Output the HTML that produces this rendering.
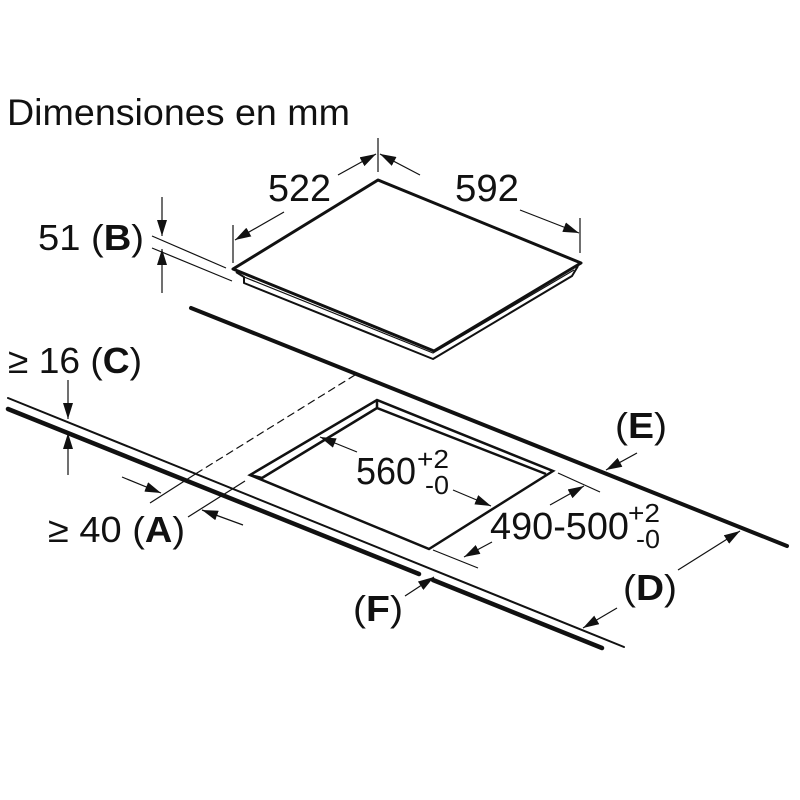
<!DOCTYPE html>
<html><head><meta charset="utf-8"><style>
html,body{margin:0;padding:0;background:#fff}
svg{display:block}
text{font-family:"Liberation Sans",sans-serif;fill:#111}
</style></head><body>
<svg width="800" height="800" viewBox="0 0 800 800" xmlns="http://www.w3.org/2000/svg">
<defs>
<marker id="a" viewBox="0 0 16 10" refX="16" refY="5" markerWidth="16" markerHeight="10" markerUnits="userSpaceOnUse" orient="auto">
<path d="M0,0 L16,5 L0,10 z" fill="#111"/>
</marker>
</defs>
<rect width="800" height="800" fill="#fff"/>
<text x="7" y="125" font-size="37" textLength="343" lengthAdjust="spacingAndGlyphs">Dimensiones en mm</text>

<!-- hob -->
<g fill="none" stroke="#111" stroke-linejoin="round">
<path d="M378,180 L581,263 L434,351 L233,269 Z" stroke-width="3"/>
<path d="M236,272 L244,277 L244,283 L433,359 L572,276 L578,266" stroke-width="2"/>
<path d="M244,277 L433,353 L574,270" stroke-width="1.2"/>
</g>

<!-- dims for hob -->
<g stroke="#111" fill="none" stroke-width="1.2">
<line x1="378" y1="138" x2="378" y2="172"/>
<line x1="233" y1="225" x2="233" y2="263"/>
<line x1="580" y1="218" x2="580" y2="253"/>
<line x1="338" y1="175" x2="376" y2="154" marker-end="url(#a)"/>
<line x1="284" y1="212" x2="235" y2="240" marker-end="url(#a)"/>
<line x1="420" y1="175" x2="380" y2="154" marker-end="url(#a)"/>
<line x1="520" y1="210" x2="579" y2="233" marker-end="url(#a)"/>
<line x1="152" y1="236" x2="226" y2="268"/>
<line x1="152" y1="248" x2="232" y2="281"/>
<line x1="162" y1="197" x2="162" y2="236" marker-end="url(#a)"/>
<line x1="162" y1="293" x2="162" y2="249" marker-end="url(#a)"/>
</g>
<text x="268" y="201" font-size="38" textLength="63" lengthAdjust="spacingAndGlyphs">522</text>
<text x="455" y="201" font-size="38" textLength="64" lengthAdjust="spacingAndGlyphs">592</text>
<text x="38" y="250" font-size="36" textLength="106" lengthAdjust="spacingAndGlyphs">51 (<tspan font-weight="bold">B</tspan>)</text>

<!-- countertop -->
<g stroke="#111" fill="none" stroke-linecap="round">
<line x1="191" y1="308" x2="787" y2="546" stroke-width="4"/>
<line x1="8" y1="398" x2="624" y2="647" stroke-width="2"/>
<path d="M8,409 L419,574 M433,580 L602,648" stroke-width="4.5"/>
<line x1="355" y1="375" x2="197" y2="473" stroke-width="1.2" stroke-dasharray="7,5"/>
</g>

<!-- cutout -->
<g fill="none" stroke="#111" stroke-width="2.5" stroke-linejoin="miter">
<path d="M377,400 L553,471 L429,549 L250,475 Z"/>
<path d="M377,400 L377,408 L546,474 M377,408 L262,478 L250,475"/>
</g>

<g stroke="#111" fill="none" stroke-width="1.2">
<line x1="357" y1="452" x2="320" y2="437" marker-end="url(#a)"/>
<line x1="453" y1="490" x2="491" y2="506" marker-end="url(#a)"/>
<line x1="558" y1="473" x2="600" y2="492"/>
<line x1="433" y1="550" x2="478" y2="568"/>
<line x1="550" y1="505" x2="584" y2="486" marker-end="url(#a)"/>
<line x1="492" y1="542" x2="464" y2="557" marker-end="url(#a)"/>
<line x1="637" y1="453" x2="606" y2="470" marker-end="url(#a)"/>
<line x1="678" y1="570" x2="740" y2="531" marker-end="url(#a)"/>
<line x1="617" y1="608" x2="583" y2="628" marker-end="url(#a)"/>
<line x1="405" y1="596" x2="434" y2="577" marker-end="url(#a)"/>
<line x1="150" y1="503" x2="197" y2="473"/>
<line x1="188" y1="517" x2="245" y2="481"/>
<line x1="122" y1="477" x2="161" y2="493" marker-end="url(#a)"/>
<line x1="243" y1="525" x2="202" y2="510" marker-end="url(#a)"/>
<line x1="68" y1="380" x2="68" y2="419" marker-end="url(#a)"/>
<line x1="68" y1="475" x2="68" y2="433" marker-end="url(#a)"/>
</g>

<text x="8" y="373" font-size="36" textLength="134" lengthAdjust="spacingAndGlyphs">≥ 16 (<tspan font-weight="bold">C</tspan>)</text>
<text x="48" y="542" font-size="36" textLength="137" lengthAdjust="spacingAndGlyphs">≥ 40 (<tspan font-weight="bold">A</tspan>)</text>
<text x="356" y="484" font-size="38" textLength="60" lengthAdjust="spacingAndGlyphs">560</text>
<text x="417" y="468" font-size="26" textLength="32" lengthAdjust="spacingAndGlyphs">+2</text>
<text x="425" y="494" font-size="26" textLength="24" lengthAdjust="spacingAndGlyphs">-0</text>
<text x="490" y="539" font-size="38" textLength="139" lengthAdjust="spacingAndGlyphs">490-500</text>
<text x="628" y="522" font-size="26" textLength="32" lengthAdjust="spacingAndGlyphs">+2</text>
<text x="636" y="548" font-size="26" textLength="24" lengthAdjust="spacingAndGlyphs">-0</text>
<text x="615" y="438" font-size="36" textLength="52" lengthAdjust="spacingAndGlyphs">(<tspan font-weight="bold">E</tspan>)</text>
<text x="623" y="600" font-size="36" textLength="54" lengthAdjust="spacingAndGlyphs">(<tspan font-weight="bold">D</tspan>)</text>
<text x="353" y="621" font-size="36" textLength="50" lengthAdjust="spacingAndGlyphs">(<tspan font-weight="bold">F</tspan>)</text>
</svg>
</body></html>
